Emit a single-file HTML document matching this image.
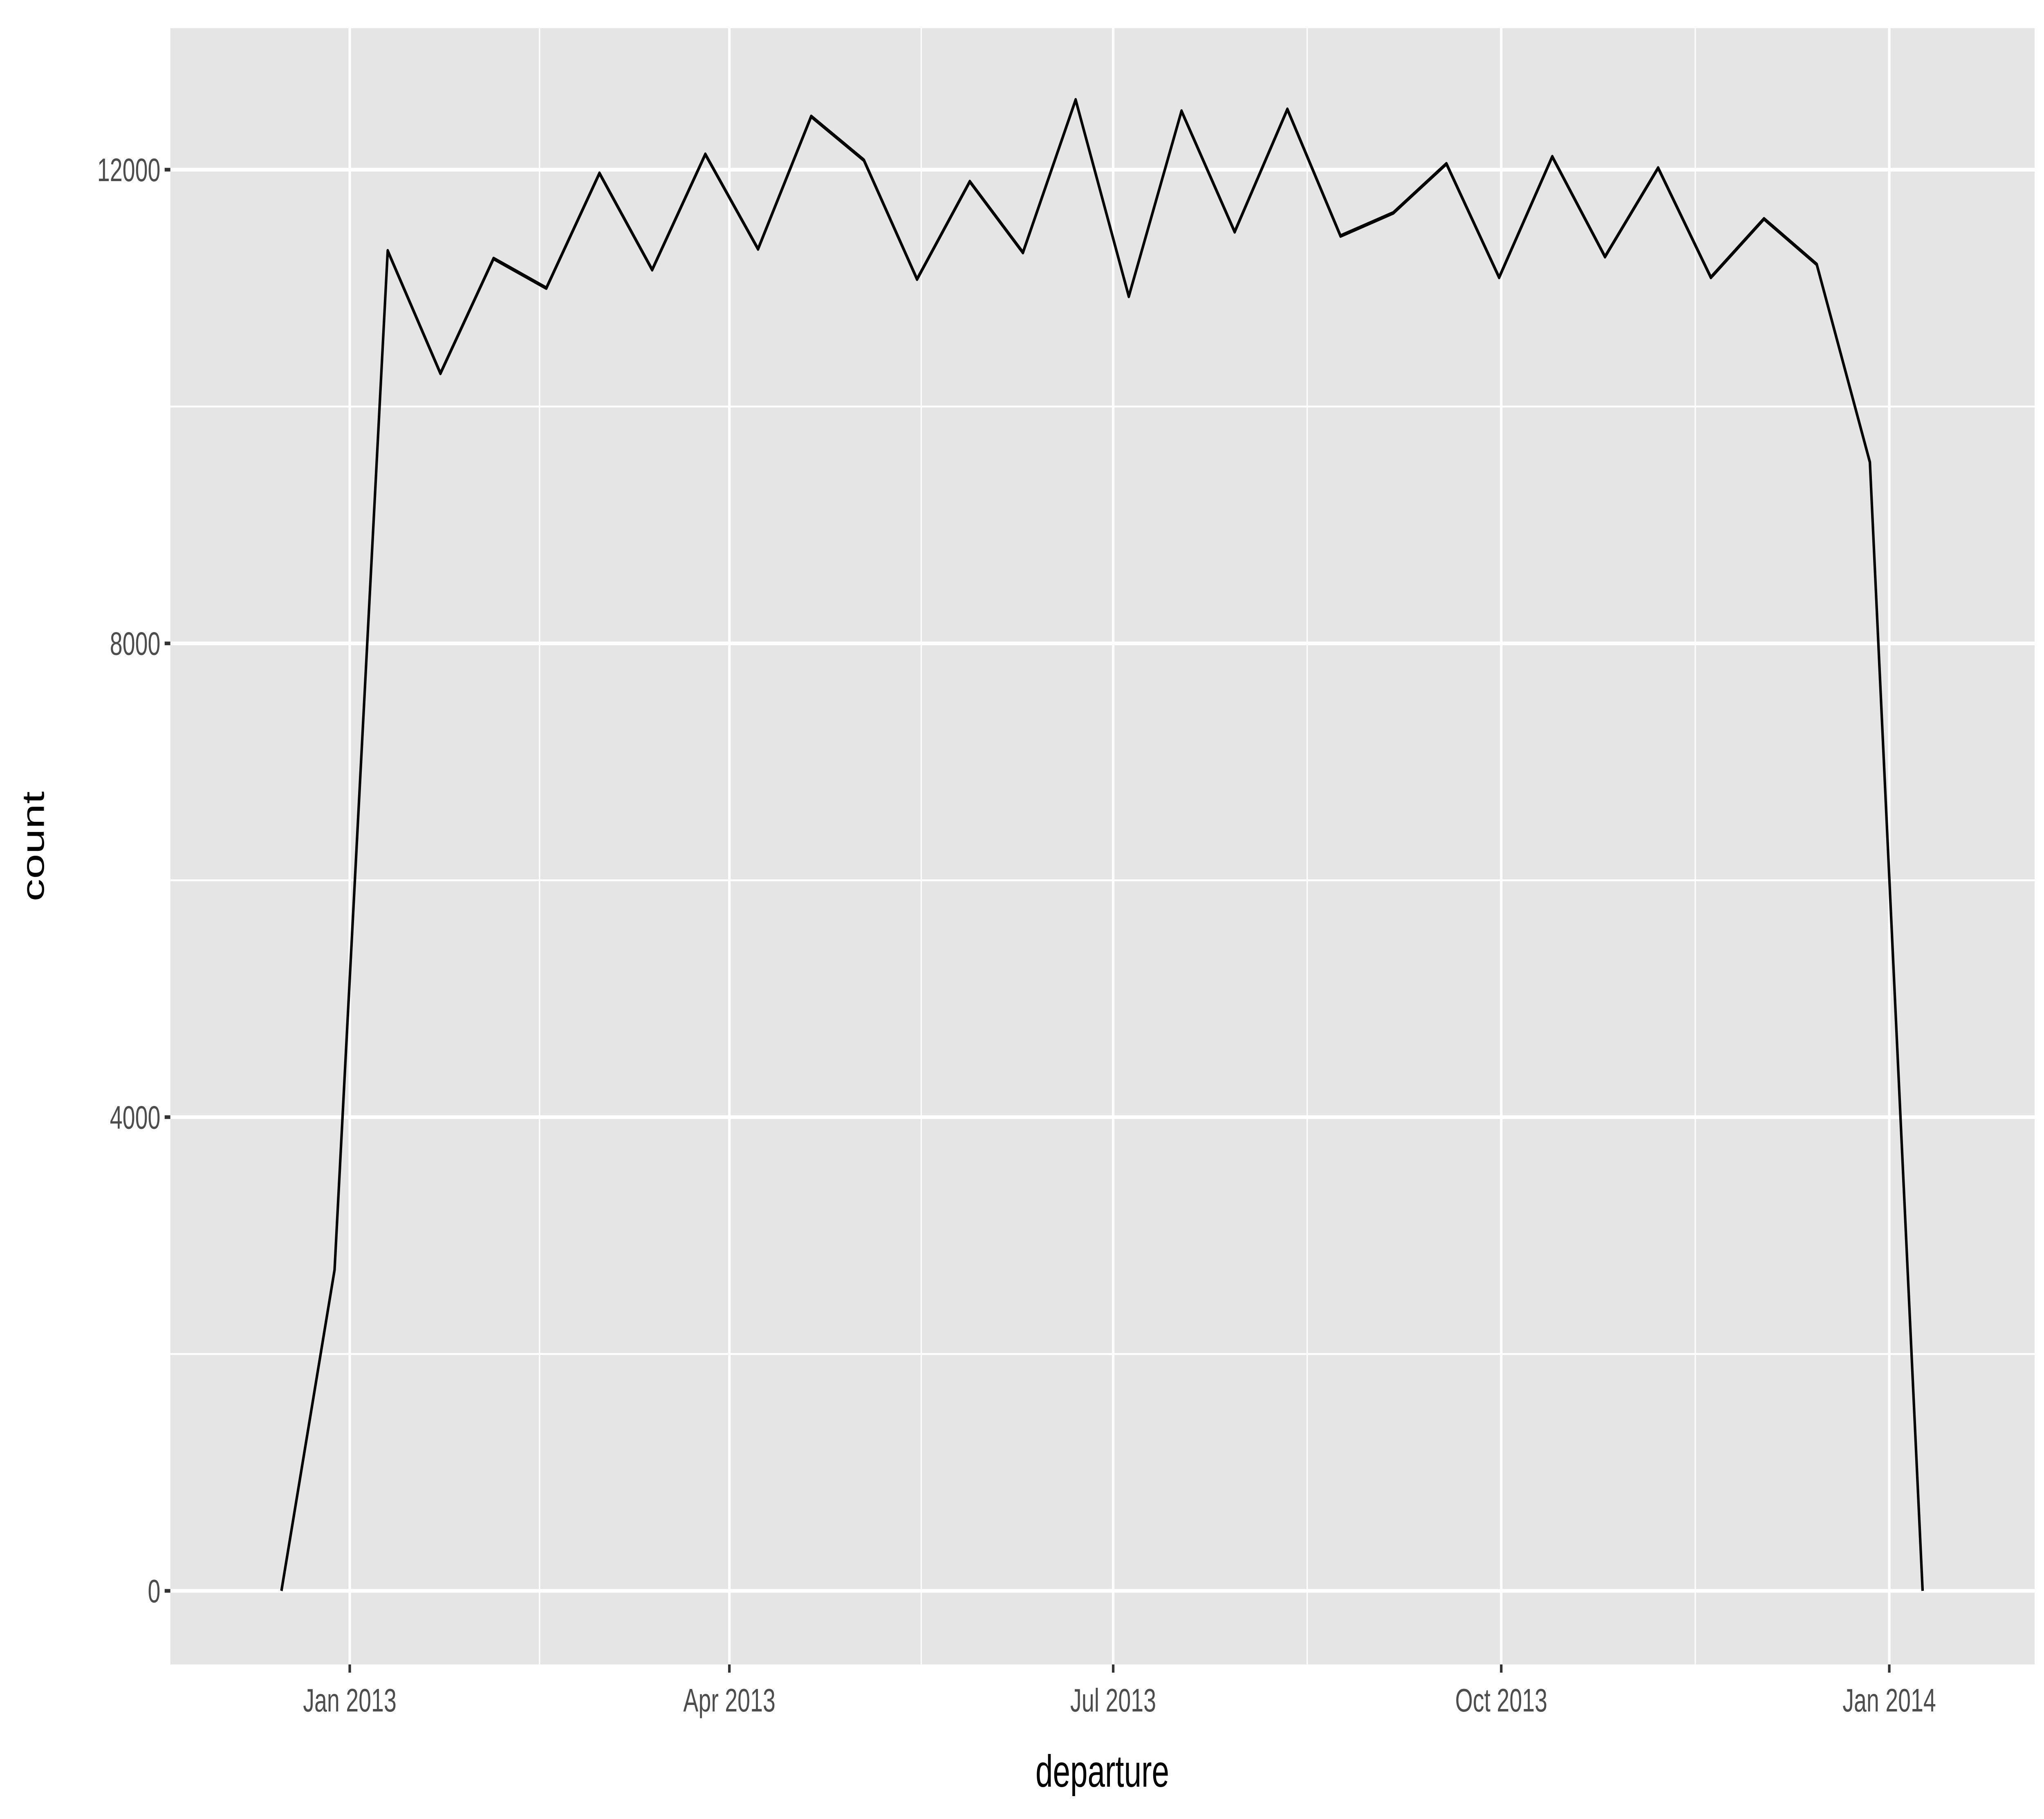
<!DOCTYPE html>
<html><head><meta charset="utf-8"><style>html,body{margin:0;padding:0;background:#fff;width:100%;height:100%;overflow:hidden}svg{display:block;width:100vw;height:100vh}</style></head>
<body>
<svg id="chart" viewBox="0 0 7200 4449" preserveAspectRatio="none" xmlns="http://www.w3.org/2000/svg" font-family="Liberation Sans, Arial, sans-serif">
<rect x="0" y="0" width="7200" height="4449" fill="#ffffff"/>
<rect x="600" y="69" width="6567" height="4002" fill="#e5e5e5"/>
<g id="grid"></g>
<g id="axes"></g>
<path id="series" fill="none" stroke="#000" stroke-width="9" stroke-linejoin="round"/>
<text x="3883" y="4370" font-size="110" text-anchor="middle" fill="#000">departure</text>
<text transform="translate(155,2070) rotate(-90)" font-size="110" text-anchor="middle" fill="#000">count</text>
</svg>
<script>
// day offsets relative to 2013-01-01
const binDays = [-16.2,-3.6,9.0,21.5,34.1,46.6,59.2,71.7,84.3,96.8,109.4,121.9,134.5,147.0,159.6,172.1,184.7,197.2,209.8,222.3,234.9,247.4,260.0,272.5,285.1,297.6,310.2,322.7,335.3,347.8,360.4,372.9];
const counts = [0,2710,11315,10280,11250,11000,11970,11155,12130,11330,12450,12080,11075,11900,11300,12590,10930,12495,11475,12510,11440,11635,12050,11090,12110,11265,12015,11090,11585,11200,9530,0];
const xTickDays = [0,90,181,273,365];
const xTickLabels = ["Jan 2013","Apr 2013","Jul 2013","Oct 2013","Jan 2014"];
const xMinorDays = [45,135.5,227,319];
const yTicks = [0,4000,8000,12000];
const yMinor = [2000,6000,10000];

const NS="http://www.w3.org/2000/svg";
const L=600,R=7167,T=69,B=4071;
function xs(d){return 1232+(d)*(6655-1232)/365;}
function ys(v){return 3891-v*(3891-415)/12000;}
function mk(tag,attrs,parent){const e=document.createElementNS(NS,tag);for(const k in attrs)e.setAttribute(k,attrs[k]);parent.appendChild(e);return e;}
const grid=document.getElementById('grid'),axes=document.getElementById('axes');
yMinor.forEach(v=>{const e=mk('line',{x1:L,x2:R,y1:ys(v),y2:ys(v),stroke:'#fff','stroke-width':4.5},grid);

});
xMinorDays.forEach(d=>{const e=mk('line',{x1:xs(d),x2:xs(d),y1:T,y2:B,stroke:'#fff','stroke-width':4.5},grid);

});
yTicks.forEach(v=>{const e=mk('line',{x1:L,x2:R,y1:ys(v),y2:ys(v),stroke:'#fff','stroke-width':9},grid);


const t=mk('line',{x1:L-20,x2:L,y1:ys(v),y2:ys(v),stroke:'#333','stroke-width':9},axes);


const l=mk('text',{x:L-35,y:ys(v)+28,'font-size':80,'text-anchor':'end',fill:'#4d4d4d'},axes);l.textContent=String(v);

});
xTickDays.forEach((d,i)=>{const e=mk('line',{x1:xs(d),x2:xs(d),y1:T,y2:B,stroke:'#fff','stroke-width':9},grid);


const t=mk('line',{x1:xs(d),x2:xs(d),y1:B,y2:B+20,stroke:'#333','stroke-width':9},axes);


const l=mk('text',{x:xs(d),y:B+115,'font-size':80,'text-anchor':'middle',fill:'#4d4d4d'},axes);l.textContent=xTickLabels[i];

});
document.getElementById('series').setAttribute('d',binDays.map((d,i)=>(i?'L':'M')+xs(d).toFixed(1)+','+ys(counts[i]).toFixed(1)).join(''));
</script>
</body></html>
